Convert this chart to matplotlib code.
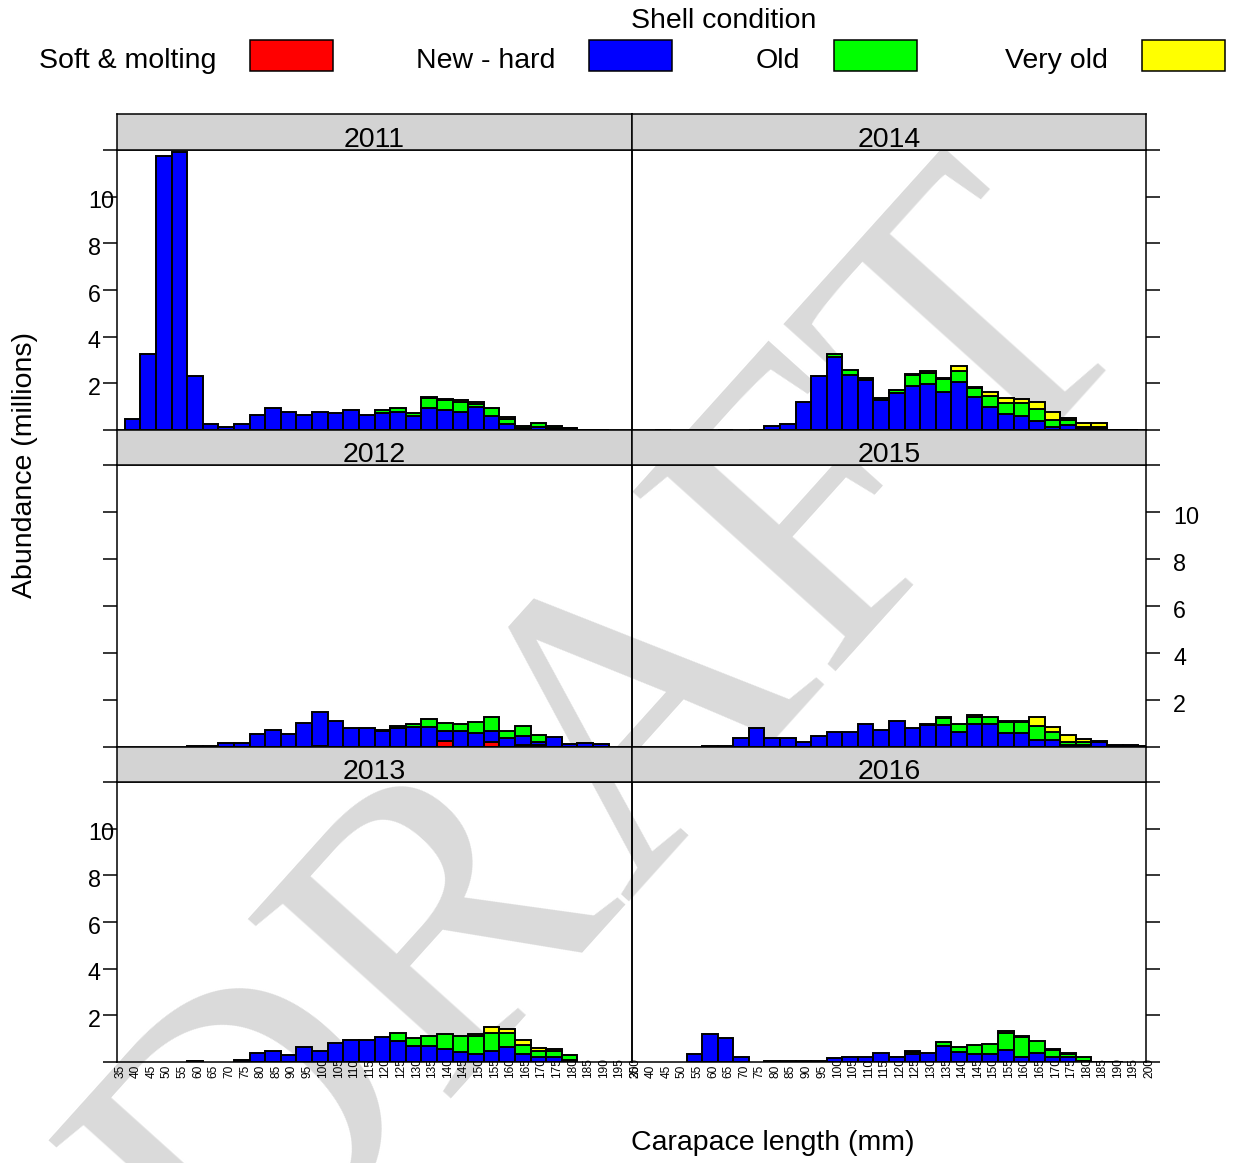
import matplotlib
matplotlib.use("Agg")
import matplotlib.pyplot as plt
from matplotlib.patches import Rectangle
import numpy as np

plt.rcParams['font.family'] = ['Liberation Sans', 'DejaVu Sans']

# carapace length classes (mm)
lengths = [35, 40, 45, 50, 55, 60, 65, 70, 75, 80,
           85, 90, 95, 100, 105, 110, 115, 120, 125, 130,
           135, 140, 145, 150, 155, 160, 165, 170, 175, 180,
           185, 190, 195, 200]

conditions = ['Soft & molting', 'New - hard', 'Old', 'Very old']
cond_colors = ['#FF0000', '#0000FF', '#00FF00', '#FFFF00']

# abundance (millions) by shell condition, one list per year
soft_2011 = [0] * 34
new_2011 = [0, 0.47, 3.24, 11.76, 11.9, 2.31, 0.24, 0.14, 0.24, 0.64,
            0.96, 0.79, 0.64, 0.79, 0.71, 0.86, 0.64, 0.75, 0.79, 0.60,
            0.96, 0.86, 0.79, 1.00, 0.60, 0.26, 0.10, 0.14, 0.10, 0.05,
            0.02, 0.02, 0, 0]
old_2011 = [0, 0, 0, 0, 0, 0, 0, 0, 0, 0,
            0, 0, 0, 0, 0, 0, 0, 0.10, 0.15, 0.15,
            0.40, 0.43, 0.40, 0.12, 0.33, 0.22, 0.05, 0.15, 0.05, 0.03,
            0, 0, 0, 0]
vold_2011 = [0, 0, 0, 0, 0, 0, 0, 0, 0, 0,
             0, 0, 0, 0, 0, 0, 0, 0, 0, 0,
             0.05, 0.05, 0.08, 0.06, 0, 0.08, 0, 0, 0, 0.02,
             0, 0, 0, 0]

soft_2012 = [0, 0, 0, 0, 0, 0, 0, 0, 0, 0,
             0, 0, 0, 0.06, 0, 0, 0, 0, 0, 0,
             0, 0.27, 0, 0, 0.20, 0, 0.07, 0.07, 0, 0,
             0, 0, 0, 0]
new_2012 = [0, 0, 0, 0, 0, 0.05, 0.05, 0.17, 0.17, 0.57,
            0.71, 0.56, 1.04, 1.45, 1.11, 0.80, 0.80, 0.67, 0.79, 0.87,
            0.86, 0.40, 0.69, 0.61, 0.47, 0.37, 0.40, 0.15, 0.41, 0.13,
            0.19, 0.11, 0, 0]
old_2012 = [0, 0, 0, 0, 0, 0, 0, 0, 0, 0,
            0, 0, 0, 0, 0, 0, 0, 0.06, 0.10, 0.10,
            0.34, 0.36, 0.28, 0.45, 0.62, 0.29, 0.42, 0.28, 0, 0,
            0, 0, 0, 0]
vold_2012 = [0] * 34

soft_2013 = [0] * 34
new_2013 = [0, 0, 0, 0, 0, 0.03, 0, 0, 0.07, 0.40,
            0.47, 0.31, 0.63, 0.47, 0.80, 0.94, 0.94, 1.09, 0.90, 0.67,
            0.67, 0.57, 0.43, 0.33, 0.47, 0.66, 0.36, 0.20, 0.20, 0.09,
            0, 0, 0, 0]
old_2013 = [0, 0, 0, 0, 0, 0, 0, 0, 0, 0,
            0, 0, 0, 0, 0, 0, 0, 0, 0.36, 0.37,
            0.44, 0.62, 0.70, 0.80, 0.78, 0.60, 0.37, 0.26, 0.26, 0.20,
            0, 0, 0, 0]
vold_2013 = [0, 0, 0, 0, 0, 0, 0, 0, 0, 0,
             0, 0, 0, 0, 0, 0, 0, 0, 0, 0,
             0, 0, 0, 0.06, 0.25, 0.15, 0.20, 0.15, 0.08, 0.02,
             0, 0, 0, 0]

soft_2014 = [0] * 34
new_2014 = [0, 0, 0.02, 0, 0, 0, 0.02, 0, 0.02, 0.17,
            0.26, 1.21, 2.31, 3.14, 2.37, 2.14, 1.27, 1.57, 1.89, 1.96,
            1.63, 2.04, 1.40, 0.99, 0.67, 0.59, 0.39, 0.14, 0.21, 0.05,
            0.05, 0.02, 0.02, 0]
old_2014 = [0, 0, 0, 0, 0, 0, 0, 0, 0, 0,
            0, 0, 0, 0.10, 0.20, 0.10, 0.10, 0.14, 0.47, 0.50,
            0.55, 0.50, 0.40, 0.47, 0.50, 0.55, 0.50, 0.30, 0.20, 0.10,
            0.10, 0, 0, 0]
vold_2014 = [0, 0, 0, 0, 0, 0, 0, 0, 0, 0,
             0, 0, 0, 0, 0, 0, 0, 0, 0.05, 0.05,
             0.05, 0.20, 0.05, 0.15, 0.22, 0.17, 0.33, 0.35, 0.12, 0.14,
             0.14, 0, 0, 0]

soft_2015 = [0] * 34
new_2015 = [0, 0, 0, 0, 0, 0.05, 0.05, 0.39, 0.79, 0.37,
            0.37, 0.23, 0.47, 0.63, 0.63, 0.97, 0.73, 1.11, 0.79, 0.92,
            0.93, 0.64, 0.96, 0.96, 0.58, 0.58, 0.29, 0.30, 0.09, 0.10,
            0.22, 0.08, 0.08, 0.05]
old_2015 = [0, 0, 0, 0, 0, 0, 0, 0, 0, 0,
            0, 0, 0, 0, 0, 0, 0, 0, 0, 0.05,
            0.29, 0.33, 0.33, 0.31, 0.50, 0.50, 0.60, 0.32, 0.14, 0.10,
            0.04, 0, 0, 0]
vold_2015 = [0, 0, 0, 0, 0, 0, 0, 0, 0, 0,
             0, 0, 0, 0, 0, 0, 0, 0, 0, 0,
             0.05, 0, 0.07, 0, 0.03, 0.03, 0.38, 0.21, 0.26, 0.14,
             0, 0, 0, 0]

soft_2016 = [0] * 34
new_2016 = [0, 0, 0, 0, 0.33, 1.19, 1.01, 0.23, 0, 0.04,
            0.04, 0.04, 0.04, 0.17, 0.20, 0.20, 0.38, 0.20, 0.33, 0.40,
            0.67, 0.44, 0.33, 0.36, 0.50, 0.20, 0.40, 0.23, 0.20, 0.05,
            0.02, 0.02, 0, 0]
old_2016 = [0, 0, 0, 0, 0, 0, 0, 0, 0, 0,
            0, 0, 0, 0, 0, 0, 0, 0.03, 0.10, 0,
            0.17, 0.20, 0.38, 0.43, 0.76, 0.89, 0.52, 0.28, 0.15, 0.15,
            0, 0, 0, 0]
vold_2016 = [0, 0, 0, 0, 0, 0, 0, 0, 0, 0,
             0, 0, 0, 0, 0, 0, 0, 0, 0.06, 0,
             0, 0, 0, 0, 0.08, 0.03, 0, 0.03, 0.05, 0,
             0, 0, 0, 0]

years = {
    2011: [soft_2011, new_2011, old_2011, vold_2011],
    2012: [soft_2012, new_2012, old_2012, vold_2012],
    2013: [soft_2013, new_2013, old_2013, vold_2013],
    2014: [soft_2014, new_2014, old_2014, vold_2014],
    2015: [soft_2015, new_2015, old_2015, vold_2015],
    2016: [soft_2016, new_2016, old_2016, vold_2016],
}
# (row, col) of each panel
layout = {2011: (0, 0), 2014: (0, 1), 2012: (1, 0), 2015: (1, 1),
          2013: (2, 0), 2016: (2, 1)}

W, H = 1233, 1163
fig = plt.figure(figsize=(W / 100, H / 100), dpi=100)

def px_axes(x0, y0, x1, y1, **kw):
    return fig.add_axes([x0 / W, 1 - y1 / H, (x1 - x0) / W, (y1 - y0) / H], **kw)

col_x = [(117, 632), (632, 1146)]
row_y = [(150, 430), (465, 747), (782, 1062)]
strip_y = [(114, 150), (430, 465), (747, 782)]

big = 20.5
yticks = [0, 2, 4, 6, 8, 10, 12]
x = np.array(lengths)

# watermark underneath the panels (anchored at the left end of its baseline)
fig.text(238 / W, 1 - 1322 / H, 'DRAFT', rotation=48, rotation_mode='anchor',
         ha='left', va='baseline', fontsize=298, family='Liberation Serif',
         color='#dadada', zorder=-5)

for year, series in years.items():
    r, c = layout[year]
    x0, x1 = col_x[c]
    y0, y1 = row_y[r]
    ax = px_axes(x0, y0, x1, y1, facecolor='none')
    ax.set_xlim(35, 200)
    ax.set_ylim(0, 12)

    bottom = np.zeros(len(lengths))
    for vals, col in zip(series, cond_colors):
        v = np.array(vals, dtype=float)
        m = v > 0
        ax.bar(x[m], v[m], width=5, bottom=bottom[m], color=col,
               edgecolor='black', linewidth=1.4, zorder=1)
        bottom += v

    for s in ax.spines.values():
        s.set_linewidth(1.1)
    ax.set_xticks([])
    ax.set_yticks(yticks)
    ax.set_yticklabels([])
    if c == 0:
        ax.tick_params(axis='y', left=True, right=False, direction='out',
                       length=10, width=1.1)
    else:
        ax.tick_params(axis='y', left=False, right=True, direction='out',
                       length=10, width=1.1)

    tr = ax.get_yaxis_transform()
    if c == 0 and r != 1:
        for t in yticks[1:-1]:
            ax.text(-29 / 515, t - 0.5, str(t), transform=tr, ha='left',
                    va='baseline', fontsize=16.8, clip_on=False)
    if c == 1 and r == 1:
        for t in yticks[1:-1]:
            ax.text(1 + 27 / 514, t - 0.5, str(t), transform=tr, ha='left',
                    va='baseline', fontsize=16.8, clip_on=False)

    # length class labels on the bottom row, tucked under the bars
    if r == 2:
        xt = ax.get_xaxis_transform()
        for L in lengths:
            ax.text(L + 1.0, -16 / 280, str(L), transform=xt, rotation=90,
                    ha='center', va='bottom', fontsize=8.6, zorder=0.5,
                    clip_on=False)

    sy0, sy1 = strip_y[r]
    sax = px_axes(x0, sy0, x1, sy1, facecolor='#d3d3d3')
    sax.set_xticks([])
    sax.set_yticks([])
    for s in sax.spines.values():
        s.set_linewidth(1.1)
    sax.text(0.5, 3 / 36, str(year), transform=sax.transAxes, ha='center',
             va='baseline', fontsize=big)

# key across the top
fig.text(724 / W, 1 - 28 / H, 'Shell condition', ha='center', va='baseline',
         fontsize=big)
key_x = [250, 589, 834, 1142]
for lab, col, kx in zip(conditions, cond_colors, key_x):
    fig.text((kx - 34) / W, 1 - 68 / H, lab, ha='right', va='baseline',
             fontsize=big)
    fig.patches.append(Rectangle((kx / W, 1 - 71 / H), 83 / W, 31 / H,
                                 transform=fig.transFigure, facecolor=col,
                                 edgecolor='black', linewidth=1.1))

fig.text(25 / W, 1 - 465 / H, 'Abundance (millions)', rotation=90,
         ha='center', va='center', fontsize=big)
fig.text(773 / W, 1 - 1143 / H, 'Carapace length (mm)', ha='center',
         va='center', fontsize=big)

fig.savefig('out.png', dpi=100)
